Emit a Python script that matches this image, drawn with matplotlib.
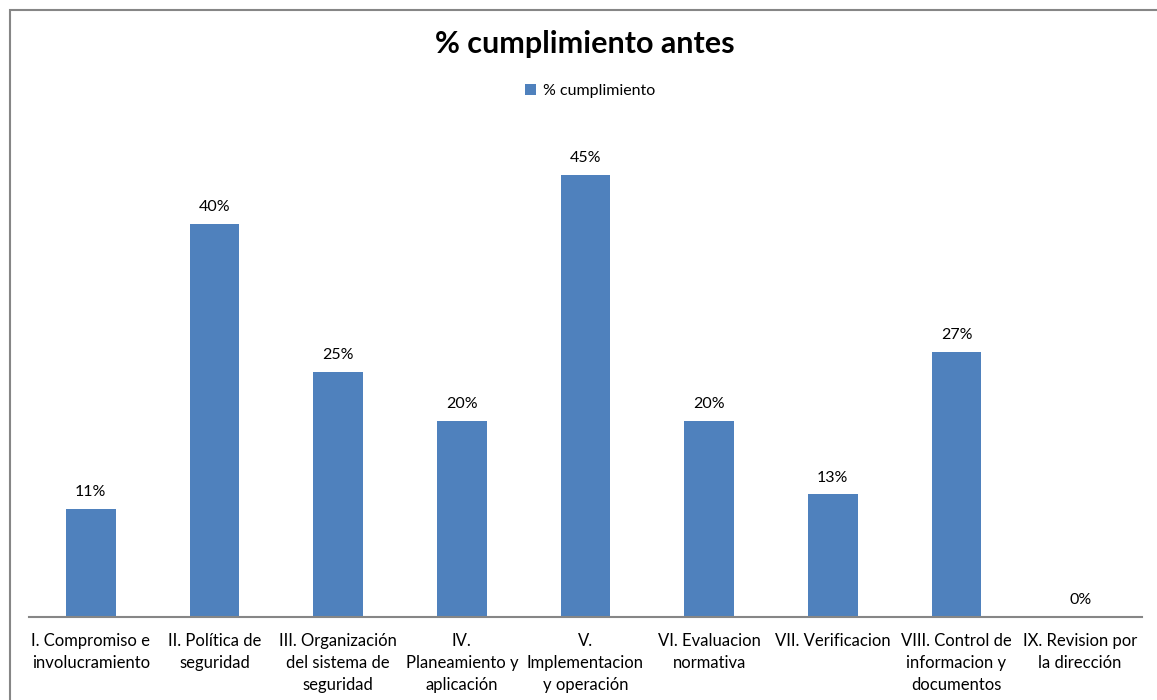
import matplotlib
matplotlib.use("Agg")
import matplotlib.pyplot as plt
from matplotlib.patches import Rectangle, Patch

categories = [
    "I. Compromiso e\ninvolucramiento",
    "II. Política de\nseguridad",
    "III. Organización\ndel sistema de\nseguridad",
    "IV.\nPlaneamiento y\naplicación",
    "V.\nImplementacion\ny operación",
    "VI. Evaluacion\nnormativa",
    "VII. Verificacion",
    "VIII. Control de\ninformacion y\ndocumentos",
    "IX. Revision por\nla dirección",
]
values = [0.11, 0.40, 0.25, 0.20, 0.45, 0.20, 0.125, 0.27, 0.0]
value_labels = ["11%", "40%", "25%", "20%", "45%", "20%", "13%", "27%", "0%"]
series_name = "% cumplimiento"
title = "% cumplimiento antes"

plt.rcParams['font.family'] = ['Lato', 'DejaVu Sans']
W, H = 1157, 700
fig = plt.figure(figsize=(W/100, H/100), dpi=100)
fig.patch.set_facecolor('white')

# outer chart border
fig.add_artist(Rectangle((9.5/W, -0.05), 1.2, 1 - 9.5/H + 0.05, transform=fig.transFigure,
                         fill=False, edgecolor='#868686', linewidth=1.5))

ax = fig.add_axes([29/W, 1 - 617/H, (1142 - 29)/W, (617 - 126)/H])
x = list(range(len(categories)))
bar_color = '#4F81BD'
bars = ax.bar(x, values, width=0.4, color=bar_color, zorder=2)
ax.set_xlim(-0.5, len(categories) - 0.5)
ax.set_ylim(0, 0.5)
for xi, v, lab in zip(x, values, value_labels):
    ax.annotate(lab, (xi, v), xytext=(0, 7), textcoords='offset points',
                ha='center', va='bottom', fontsize=11.5, color='#000000')

for s in ['top', 'right', 'left']:
    ax.spines[s].set_visible(False)
ax.spines['bottom'].set_color('#868686')
ax.spines['bottom'].set_linewidth(1.5)
ax.set_yticks([])
ax.set_xticks(x)
ax.set_xticklabels(categories, fontsize=12, linespacing=1.45, color='#000000')
ax.tick_params(axis='x', length=0, pad=11.5)

fig.text(585/W, 1 - 44/H, title, ha='center', va='center', fontsize=22, fontweight='bold')
fig.legend(handles=[Patch(facecolor=bar_color, label=series_name)],
           loc='center', bbox_to_anchor=(590/W, 1 - 91/H), frameon=False,
           fontsize=11.5, handlelength=0.7, handleheight=0.7, handletextpad=0.4)

fig.savefig('out.png', dpi=100)
